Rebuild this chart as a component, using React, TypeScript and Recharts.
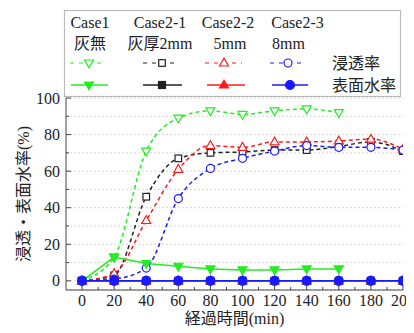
import React from 'react';
import { LineChart, Line, XAxis, YAxis, CartesianGrid } from 'recharts';

// ---- data ----
const times = [0, 20, 40, 60, 80, 100, 120, 140, 160, 180, 200];
const case1Infil = [0, 13, 71, 89, 93, 91, 93, 94, 92, null, null];
const case21Infil = [0, 3, 46, 67, 70, 70.5, 71.5, 71.5, 73.5, 76, 71];
const case22Infil = [0, 4, 33, 61, 74, 73, 76, 76, 76.5, 77.5, 72];
const case23Infil = [0, 1, 7, 45, 61.5, 67, 71, 74, 73, 73, 71.5];
const case1Surf = [0, 13, 9.5, 8, 6.5, 6, 6, 6.5, 6.5, null, null];
const case21Surf = [0, 0, 0, 0, 0, 0, 0, 0, 0, 0, 0];
const case22Surf = [0, 0, 0, 0, 0, 0, 0, 0, 0, 0, 0];
const case23Surf = [0, 0, 0, 0, 0, 0, 0, 0, 0, 0, 0];

const xTicks = [0, 10, 20, 30, 40, 50, 60, 70, 80, 90, 100, 110, 120, 130, 140, 150, 160, 170, 180, 190, 200];
const xMajor = [0, 20, 40, 60, 80, 100, 120, 140, 160, 180, 200];
const yTicks = [0, 10, 20, 30, 40, 50, 60, 70, 80, 90, 100];
const yMajor = [0, 20, 40, 60, 80, 100];

const caseNames = ['Case1', 'Case2-1', 'Case2-2', 'Case2-3'];
const caseSub = ['灰無', '灰厚2mm', '5mm', '8mm'];
const rowLabels = ['浸透率', '表面水率'];
const xTitle = '経過時間(min)';
const yTitle = '浸透・表面水率(%)';

const GREEN = '#22ee22';
const BLACK = '#222222';
const RED = '#ff1a1a';
const BLUE = '#1a1aff';
const FRAME = '#444444';
const FONT = '"Liberation Serif", "Noto Sans CJK JP"';
const TXT = { fontFamily: FONT, fontSize: 16 };

const data = times.map((t, i) => ({
  t,
  c1i: case1Infil[i],
  c21i: case21Infil[i],
  c22i: case22Infil[i],
  c23i: case23Infil[i],
  c1s: case1Surf[i],
  c21s: case21Surf[i],
  c22s: case22Surf[i],
  c23s: case23Surf[i],
}));

type Shape = 'down' | 'square' | 'up' | 'circle';

function Marker({ shape, cx, cy, color, filled, k }: any) {
  const fill = filled ? color : '#ffffff';
  const sw = 1.2;
  if (shape === 'circle') {
    return <circle key={k} cx={cx} cy={cy} r={filled ? 4.5 : 4} fill={fill} stroke={color} strokeWidth={sw} />;
  }
  if (shape === 'square') {
    const s = filled ? 3.5 : 3.3;
    return <rect key={k} x={cx - s} y={cy - s} width={2 * s} height={2 * s} fill={fill} stroke={color} strokeWidth={sw} />;
  }
  if (shape === 'down') {
    const d = `M${cx - 4.5},${cy - 3} L${cx + 4.5},${cy - 3} L${cx},${cy + 4.8} Z`;
    return <path key={k} d={d} fill={fill} stroke={color} strokeWidth={sw} />;
  }
  const d = `M${cx - 4.5},${cy + 3} L${cx + 4.5},${cy + 3} L${cx},${cy - 4.8} Z`;
  return <path key={k} d={d} fill={fill} stroke={color} strokeWidth={sw} />;
}

const makeDot = (shape: Shape, color: string, filled: boolean) => (props: any) => {
  const { cx, cy, index } = props;
  if (cx == null || cy == null || props.value == null || Number.isNaN(cy)) return <g key={`e${index}`} />;
  return <Marker k={`d${index}`} shape={shape} cx={cx} cy={cy} color={color} filled={filled} />;
};

const BottomTick = (props: any) => {
  const { x, y, payload } = props;
  const v = payload.value;
  const major = xMajor.includes(v);
  return (
    <g>
      <line x1={x} x2={x} y1={y} y2={y - (major ? 5 : 3)} stroke={FRAME} />
      {major && (
        <text x={x} y={y + 16} textAnchor="middle" style={TXT} fill="#222">
          {v}
        </text>
      )}
    </g>
  );
};

const TopTick = (props: any) => {
  const { x, y, payload } = props;
  const major = xMajor.includes(payload.value);
  return <line x1={x} x2={x} y1={y} y2={y + (major ? 5 : 3)} stroke={FRAME} />;
};

const LeftTick = (props: any) => {
  const { x, y, payload } = props;
  const v = payload.value;
  const major = yMajor.includes(v);
  return (
    <g>
      <line x1={x} x2={x + (major ? 5 : 3)} y1={y} y2={y} stroke={FRAME} />
      {major && (
        <text x={x - 6} y={y + 5.5} textAnchor="end" style={TXT} fill="#222">
          {v}
        </text>
      )}
    </g>
  );
};

const RightTick = (props: any) => {
  const { x, y, payload } = props;
  const major = yMajor.includes(payload.value);
  return <line x1={x} x2={x - (major ? 5 : 3)} y1={y} y2={y} stroke={FRAME} />;
};

const XTitle = (props: any) => {
  const vb = props.viewBox || {};
  return (
    <text x={vb.x + vb.width / 2} y={vb.y + 34} textAnchor="middle" style={TXT} fill="#222">
      {xTitle}
    </text>
  );
};

const YTitle = (props: any) => {
  const vb = props.viewBox || {};
  const cx = 15;
  const cy = vb.y + vb.height / 2;
  return (
    <text
      x={cx}
      y={cy}
      transform={`rotate(-90 ${cx} ${cy})`}
      textAnchor="middle"
      dominantBaseline="central"
      style={TXT}
      fill="#222"
    >
      {yTitle}
    </text>
  );
};

const colors = [GREEN, BLACK, RED, BLUE];
const shapes: Shape[] = ['down', 'square', 'up', 'circle'];
const nameX = [82, 152, 220, 289.5];
const subX = [82, 152, 222, 280.5];
const dashSeg = [[62, 95], [135, 169], [197, 234], [262, 297]];
const dashMark = [81, 154, 216, 280];
const solidSeg = [[63, 100], [135, 174], [199, 237], [264, 300]];
const solidMark = [81, 154, 216, 282];

function LegendBox() {
  return (
    <svg width={406} height={92} style={{ position: 'absolute', left: 0, top: 0, pointerEvents: 'none' }}>
      <rect x={56.5} y={2.5} width={336} height={86} fill="#ffffff" stroke="#bbbbbb" strokeWidth={1.2} />
      {caseNames.map((n, i) => (
        <text key={`n${i}`} x={nameX[i]} y={20} textAnchor="middle" style={TXT} fill="#222">
          {n}
        </text>
      ))}
      {caseSub.map((n, i) => (
        <text key={`s${i}`} x={subX[i]} y={41} textAnchor="middle" style={TXT} fill="#222">
          {n}
        </text>
      ))}
      {colors.map((c, i) => (
        <g key={`r${i}`}>
          <line x1={dashSeg[i][0]} x2={dashSeg[i][1]} y1={55} y2={55} stroke={c} strokeWidth={1.2} strokeDasharray="4 5" />
          <Marker k={`lm${i}`} shape={shapes[i]} cx={dashMark[i]} cy={55} color={c} filled={false} />
          <line x1={solidSeg[i][0]} x2={solidSeg[i][1]} y1={77} y2={77} stroke={c} strokeWidth={1.5} />
          <Marker k={`ls${i}`} shape={shapes[i]} cx={solidMark[i]} cy={77} color={c} filled={true} />
        </g>
      ))}
      <text x={324} y={61} style={TXT} fill="#222">{rowLabels[0]}</text>
      <text x={324} y={83} style={TXT} fill="#222">{rowLabels[1]}</text>
    </svg>
  );
}

const infilKeys = ['c1i', 'c21i', 'c22i', 'c23i'];
const surfKeys = ['c1s', 'c21s', 'c22s', 'c23s'];

export default function App() {
  return (
    <div style={{ position: 'relative', width: 406, height: 325, fontFamily: FONT }}>
      <LineChart width={406} height={325} data={data} margin={{ top: 90, right: 11, bottom: 0, left: 0 }}>
        <CartesianGrid vertical={false} stroke="#d4d4d4" strokeDasharray="2 2" />
        <XAxis
          dataKey="t"
          type="number"
          domain={[-10, 200]}
          allowDataOverflow
          ticks={xTicks}
          interval={0}
          tickSize={0}
          tickMargin={0}
          tickLine={false}
          height={43}
          axisLine={{ stroke: FRAME }}
          tick={<BottomTick />}
          label={<XTitle />}
        />
        <XAxis
          xAxisId="top"
          orientation="top"
          dataKey="t"
          type="number"
          domain={[-10, 200]}
          allowDataOverflow
          ticks={xTicks}
          interval={0}
          tickSize={0}
          tickMargin={0}
          tickLine={false}
          height={0}
          axisLine={{ stroke: FRAME }}
          tick={<TopTick />}
        />
        <YAxis
          type="number"
          domain={[-5, 100]}
          allowDataOverflow
          ticks={yTicks}
          interval={0}
          tickSize={0}
          tickMargin={0}
          tickLine={false}
          width={58}
          axisLine={{ stroke: FRAME }}
          tick={<LeftTick />}
          label={<YTitle />}
        />
        <YAxis
          yAxisId="right"
          orientation="right"
          type="number"
          domain={[-5, 100]}
          allowDataOverflow
          ticks={yTicks}
          interval={0}
          tickSize={0}
          tickMargin={0}
          tickLine={false}
          width={0}
          axisLine={{ stroke: FRAME }}
          tick={<RightTick />}
        />
        {infilKeys.map((k, i) => (
          <Line
            key={k}
            dataKey={k}
            stroke={colors[i]}
            strokeWidth={1.5}
            strokeDasharray="4 3"
            type="monotone"
            dot={makeDot(shapes[i], colors[i], false)}
            activeDot={false}
            isAnimationActive={false}
          />
        ))}
        {surfKeys.map((k, i) => (
          <Line
            key={k}
            dataKey={k}
            stroke={colors[i]}
            strokeWidth={1.5}
            type="linear"
            dot={makeDot(shapes[i], colors[i], true)}
            activeDot={false}
            isAnimationActive={false}
          />
        ))}
      </LineChart>
      <LegendBox />
    </div>
  );
}
